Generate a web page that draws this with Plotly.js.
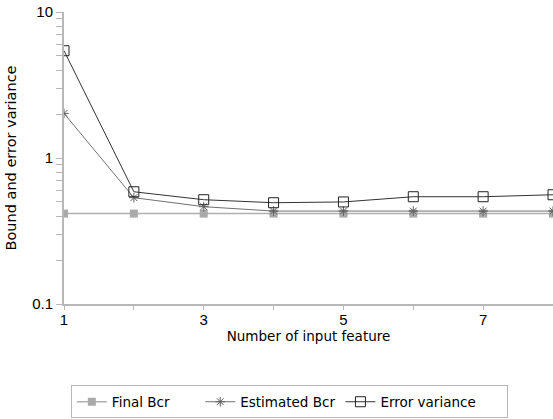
<!DOCTYPE html>
<html><head><meta charset="utf-8">
<script src="https://cdn.plot.ly/plotly-3.0.1.min.js"></script>
<style>body{margin:0;background:#fff}#c{width:553px;height:419px}</style>
</head><body><div id="c"></div>
<script>
const features = [1, 2, 3, 4, 5, 6, 7, 8];
const finalBcr = [0.416, 0.416, 0.416, 0.416, 0.416, 0.416, 0.416, 0.416];
const estimatedBcr = [2.02, 0.535, 0.464, 0.433, 0.433, 0.433, 0.433, 0.433];
const errorVariance = [5.43, 0.587, 0.518, 0.494, 0.50, 0.543, 0.543, 0.56];
const seriesNames = ["Final Bcr\u00a0\u00a0\u00a0\u00a0\u00a0\u00a0", "Estimated Bcr", "Error variance\u00a0\u00a0\u00a0\u00a0\u00a0\u00a0"];
const xTickVals = [1, 2, 3, 4, 5, 6, 7, 8];
const xTickText = ["1", "", "3", "", "5", "", "7", ""];
const yTickVals = [0.1,0.2,0.3,0.4,0.5,0.6,0.7,0.8,0.9,1,2,3,4,5,6,7,8,9,10];
const yTickText = ["0.1","","","","","","","","","1","","","","","","","","","10"];

const traces = [
  {x: features, y: finalBcr, name: seriesNames[0], mode: "lines+markers",
   line: {color: "#b0b0b0", width: 1.5}, marker: {symbol: "square", size: 8, color: "#aaaaaa"}},
  {x: features, y: estimatedBcr, name: seriesNames[1], mode: "lines+markers",
   line: {color: "#707070", width: 1}, marker: {symbol: "asterisk-open", size: 8, color: "#606060", line: {color: "#606060", width: 1}}},
  {x: features, y: errorVariance, name: seriesNames[2], mode: "lines+markers",
   line: {color: "#333333", width: 1}, marker: {symbol: "square-open", size: 10, color: "#222222", line: {color: "#222222", width: 1}}}
];
const layout = {
  width: 553, height: 419,
  margin: {l: 64, r: 0, t: 12, b: 113},
  paper_bgcolor: "#fff", plot_bgcolor: "#fff",
  font: {family: "DejaVu Sans", color: "#000"},
  xaxis: {range: [1, 8], tickvals: xTickVals, ticktext: xTickText, showgrid: false, zeroline: false,
    showline: true, linecolor: "#b8b8b8", linewidth: 2, ticks: "outside", ticklen: 4, tickcolor: "#b8b8b8",
    ticklabelstandoff: -3,
    tickfont: {family: "Liberation Sans", size: 15},
    title: {text: "Number of input feature", font: {family: "DejaVu Sans", size: 13.5}, standoff: 4}},
  yaxis: {type: "log", range: [-1, 1], tickvals: yTickVals, ticktext: yTickText, showgrid: false, zeroline: false,
    showline: true, linecolor: "#b8b8b8", linewidth: 2, ticks: "outside", ticklen: 6, tickcolor: "#b8b8b8",
    tickfont: {family: "Liberation Sans", size: 15},
    title: {text: "Bound and error variance", font: {family: "DejaVu Sans", size: 14.5}, standoff: 12}},
  showlegend: true,
  legend: {orientation: "h", x: 0.014, y: -0.279, xanchor: "left", yanchor: "top",
    bordercolor: "#b8b8b8", borderwidth: 1, font: {family: "DejaVu Sans", size: 13.5}, itemwidth: 30,
    tracegroupgap: 0}
};
Plotly.newPlot("c", traces, layout, {displayModeBar: false, staticPlot: true});
</script></body></html>
